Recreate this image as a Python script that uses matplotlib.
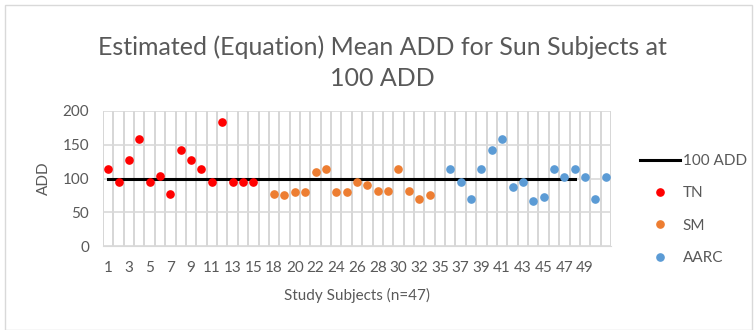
import numpy as np
import matplotlib.pyplot as plt

plt.rcParams['font.family'] = ['Lato', 'DejaVu Sans']

# Estimated mean ADD per subject, grouped by site
tn_add = [114, 95, 127, 159, 95, 103, 77, 142, 127, 114, 95, 184, 95, 95, 95]
sm_add = [77, 76, 80, 80, 109, 114, 80, 80, 95, 90, 81, 81, 114, 81, 70, 75]
aarc_add = [114, 95, 70, 114, 142, 159, 87, 95, 67, 72, 114, 102, 114, 102, 70, 102]

# Category slots on the x axis (one empty slot between groups)
tn_pos = list(range(0, 15))
sm_pos = list(range(16, 32))
aarc_pos = list(range(33, 49))
n_slots = 49

# Reference line at 100 ADD
ref_pos = list(range(0, 46))
ref_add = [100] * len(ref_pos)

tick_pos = list(range(0, 47, 2))
tick_labels = ['1', '3', '5', '7', '9', '11', '13', '15', '18', '20', '22', '24',
               '26', '28', '30', '32', '35', '37', '39', '41', '43', '45', '47', '49']

text_col = '#595959'
grid_col = '#d9d9d9'

fig = plt.figure(figsize=(7.54, 3.30), dpi=100)
# light chart border
fig.patches.append(plt.Rectangle((0.006, 0.0), 0.992, 0.985, transform=fig.transFigure,
                                 fill=False, edgecolor='#d9d9d9', lw=1))

ax = fig.add_axes([103 / 754, (330 - 246) / 330, 508 / 754, 135 / 330])
ax.set_xlim(-0.5, n_slots - 0.5)
ax.set_ylim(0, 200)
ax.set_axisbelow(True)

ax.plot(ref_pos, ref_add, color='black', lw=2.2, label='100 ADD', zorder=2)
ax.plot(tn_pos, tn_add, 'o', color='#ff0000', ms=5.2, label='TN', zorder=3)
ax.plot(sm_pos, sm_add, 'o', color='#ed7d31', ms=5.2, label='SM', zorder=3)
ax.plot(aarc_pos, aarc_add, 'o', color='#5b9bd5', ms=5.2, label='AARC', zorder=3)

for s in ax.spines.values():
    s.set_visible(False)
ax.spines['bottom'].set_visible(True)
ax.spines['bottom'].set_color(grid_col)

ax.set_yticks([0, 50, 100, 150, 200])
ax.set_xticks(tick_pos)
ax.set_xticklabels(tick_labels)
# vertical gridlines sit between categories
ax.set_xticks(np.arange(-0.5, n_slots, 1), minor=True)
ax.grid(axis='y', which='major', color=grid_col, lw=1.2)
ax.grid(axis='x', which='minor', color='#cfcfcf', lw=1.2)
ax.tick_params(axis='both', which='both', length=0, colors=text_col, labelsize=11)
ax.tick_params(axis='y', pad=10)
ax.tick_params(axis='x', pad=11)

ax.set_ylabel('ADD', color=text_col, fontsize=11, labelpad=8)
ax.set_xlabel('Study Subjects (n=47)', color=text_col, fontsize=11, labelpad=9)

fig.text(0.507, 0.81, 'Estimated (Equation) Mean ADD for Sun Subjects at\n100 ADD',
         ha='center', va='center', fontsize=18, color=text_col, linespacing=1.45)

leg = ax.legend(loc='center left', bbox_to_anchor=(1.03, 0.27), frameon=False,
                fontsize=11, labelspacing=1.2, handlelength=2.6, handletextpad=0.2)
for t in leg.get_texts():
    t.set_color(text_col)

fig.savefig('out.png', dpi=100)
